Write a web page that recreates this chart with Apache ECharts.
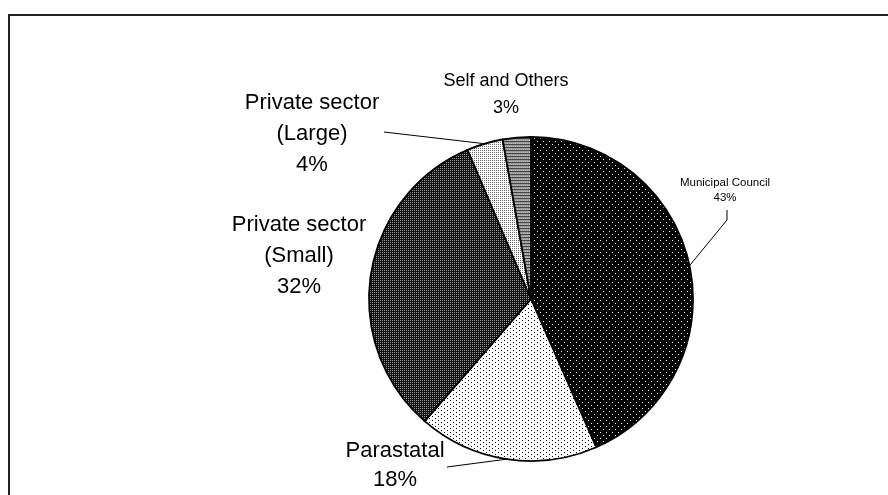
<!DOCTYPE html>
<html>
<head>
<meta charset="utf-8">
<script src="https://cdn.jsdelivr.net/npm/echarts@6/dist/echarts.min.js"></script>
<style>
html,body{margin:0;padding:0;background:#fff;}
#chart{width:888px;height:495px;}
</style>
</head>
<body>
<div id="chart"></div>
<script>
// ---- data ----
var categories = ['Municipal Council', 'Parastatal', 'Private sector\n(Small)', 'Private sector\n(Large)', 'Self and Others'];
var shares = [43.4, 18, 32.2, 3.6, 2.8];

// ---- styling (kept separate from data) ----
function makePattern(w, h, bg, dots) {
  var c = document.createElement('canvas');
  c.width = w; c.height = h;
  var g = c.getContext('2d');
  g.fillStyle = bg; g.fillRect(0, 0, w, h);
  dots.forEach(function (d) { g.fillStyle = d[2]; g.fillRect(d[0], d[1], 1, 1); });
  return { image: c, repeat: 'repeat' };
}
var fills = [
  makePattern(6, 6, '#000', [[0, 0, '#fff'], [3, 3, '#fff']]),
  makePattern(6, 4, '#fff', [[0, 0, '#000'], [3, 2, '#000']]),
  makePattern(2, 2, '#111', [[0, 0, '#9a9a9a']]),
  makePattern(2, 2, '#fff', [[0, 0, '#666']]),
  makePattern(2, 3, '#9a9a9a', [[0, 0, '#444'], [1, 0, '#444'], [1, 2, '#bbb']])
];

// detect a condensed Arial-like face
function hasFont(name) {
  var c = document.createElement('canvas').getContext('2d');
  var t = 'Private sector (Large) 0123456789%';
  c.font = '40px monospace';
  var a = c.measureText(t).width;
  c.font = '40px "' + name + '", monospace';
  var b = c.measureText(t).width;
  c.font = '40px serif';
  var a2 = c.measureText(t).width;
  c.font = '40px "' + name + '", serif';
  var b2 = c.measureText(t).width;
  return a !== b || a2 !== b2;
}
var narrow = hasFont('Liberation Sans Narrow');
var fontFamily = narrow ? '"Liberation Sans Narrow", "Liberation Sans", Arial, sans-serif'
                        : '"Liberation Sans", Arial, sans-serif';
var k = narrow ? 1.12 : 1.0;
var labelStyles = [
  { fontSize: 11.5 * k, lineHeight: 15 },
  { fontSize: 22 * k, lineHeight: 29 },
  { fontSize: 22 * k, lineHeight: 31 },
  { fontSize: 22 * k, lineHeight: 31 },
  { fontSize: 18 * k, lineHeight: 27 }
];
var showLine = [true, true, false, true, false];
// label centres and leader elbows (layout)
var labelPos = [[725, 190], [395, 465], [299, 256], [312, 134], [506, 95]];
var linePts = [
  [[727, 220], [727, 210]],
  [[447, 467]],
  [],
  [[384, 132]],
  []
];

var dataItems = categories.map(function (name, i) {
  return {
    name: name,
    value: shares[i],
    itemStyle: { color: fills[i] },
    label: labelStyles[i],
    labelLine: { show: showLine[i] }
  };
});

var chart = echarts.init(document.getElementById('chart'), null, { renderer: 'canvas' });
chart.setOption({
  animation: false,
  backgroundColor: '#fff',
  graphic: [{
    type: 'rect',
    shape: { x: 9, y: 15, width: 900, height: 500 },
    style: { fill: 'none', stroke: '#222', lineWidth: 2 }
  }],
  series: [{
    type: 'pie',
    center: [531, 299],
    radius: 162,
    startAngle: 90,
    clockwise: true,
    percentPrecision: 0,
    data: dataItems,
    itemStyle: { borderColor: '#000', borderWidth: 1.8 },
    label: {
      show: true,
      position: 'outside',
      formatter: '{b}\n{d}%',
      color: '#000',
      fontFamily: fontFamily,
      align: 'center'
    },
    labelLine: {
      show: true,
      lineStyle: { color: '#000', width: 1 }
    },
    labelLayout: function (p) {
      var i = p.dataIndex;
      var res = {
        x: labelPos[i][0],
        y: labelPos[i][1],
        align: 'center',
        verticalAlign: 'middle',
        moveOverlap: false
      };
      if (p.labelLinePoints && showLine[i]) {
        res.labelLinePoints = [p.labelLinePoints[0]].concat(linePts[i]);
      }
      return res;
    }
  }]
});
</script>
</body>
</html>
